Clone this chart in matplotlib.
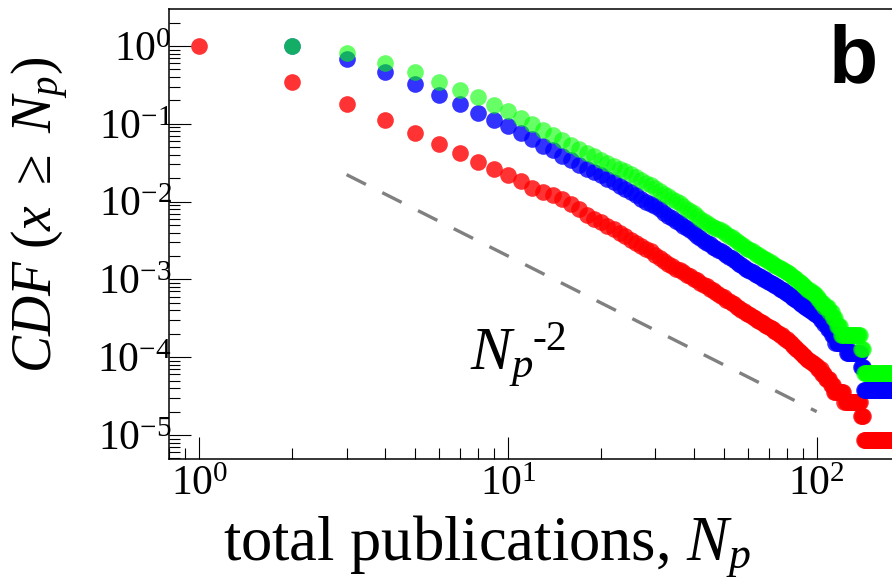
import numpy as np
import matplotlib
matplotlib.use("Agg")
import matplotlib.pyplot as plt
from matplotlib.ticker import LogLocator, NullFormatter

# log10 of CDF(x >= Np) for Np = 1, 2, 3, ... (red starts at Np=1, blue/green at Np=2)
red_logcdf = [
    0.00, -0.46, -0.74, -0.95, -1.12, -1.26, -1.38, -1.49, -1.58, -1.66,
    -1.74, -1.82, -1.87, -1.92, -1.96, -2.03, -2.10, -2.17, -2.22, -2.26,
    -2.31, -2.35, -2.40, -2.44, -2.49, -2.53, -2.57, -2.61, -2.64, -2.68,
    -2.72, -2.76, -2.80, -2.83, -2.86, -2.88, -2.91, -2.94, -2.96, -2.99,
    -3.01, -3.04, -3.07, -3.09, -3.12, -3.14, -3.16, -3.19, -3.21, -3.23,
    -3.26, -3.28, -3.30, -3.32, -3.35, -3.37, -3.39, -3.41, -3.43, -3.45,
    -3.46, -3.48, -3.50, -3.52, -3.53, -3.55, -3.56, -3.58, -3.60, -3.61,
    -3.63, -3.64, -3.66, -3.68, -3.69, -3.71, -3.72, -3.74, -3.76, -3.77,
    -3.79, -3.81, -3.83, -3.85, -3.87, -3.89, -3.91, -3.93, -3.95, -3.97,
    -3.98, -4.00, -4.02, -4.03, -4.05, -4.06, -4.07, -4.09, -4.10, -4.11,
    -4.15, -4.15, -4.15, -4.21, -4.21, -4.21, -4.28, -4.28, -4.28, -4.28,
    -4.36, -4.36, -4.36, -4.45, -4.45, -4.45, -4.45, -4.45, -4.45, -4.45,
    -4.45, -4.45, -4.58, -4.58, -4.58, -4.58, -4.58, -4.58, -4.58, -4.58,
    -4.58, -4.58, -4.58, -4.58, -4.58, -4.58, -4.58, -4.58, -4.76, -4.76,
    -4.76, -5.06, -5.06, -5.06, -5.06, -5.06, -5.06, -5.06, -5.06, -5.06,
    -5.06, -5.06, -5.06, -5.06, -5.06, -5.06, -5.06, -5.06, -5.06, -5.06,
    -5.06, -5.06, -5.06, -5.06, -5.06, -5.06, -5.06, -5.06, -5.06, -5.06,
    -5.06, -5.06, -5.06, -5.06, -5.06,
]

blue_logcdf = [
    0.00, -0.17, -0.34, -0.49, -0.63, -0.75, -0.86, -0.95, -1.03,
    -1.12, -1.20, -1.28, -1.34, -1.41, -1.47, -1.53, -1.58, -1.62, -1.66,
    -1.71, -1.75, -1.80, -1.84, -1.88, -1.92, -1.96, -2.00, -2.03, -2.06,
    -2.10, -2.14, -2.18, -2.21, -2.25, -2.28, -2.31, -2.34, -2.37, -2.40,
    -2.44, -2.47, -2.50, -2.53, -2.55, -2.58, -2.60, -2.62, -2.64, -2.66,
    -2.69, -2.71, -2.73, -2.75, -2.78, -2.80, -2.82, -2.84, -2.86, -2.88,
    -2.89, -2.91, -2.93, -2.94, -2.96, -2.97, -2.99, -3.00, -3.02, -3.03,
    -3.05, -3.06, -3.07, -3.09, -3.10, -3.12, -3.13, -3.14, -3.16, -3.17,
    -3.19, -3.20, -3.22, -3.24, -3.25, -3.27, -3.28, -3.30, -3.31, -3.33,
    -3.34, -3.36, -3.37, -3.38, -3.39, -3.40, -3.42, -3.43, -3.44, -3.45,
    -3.47, -3.47, -3.52, -3.52, -3.52, -3.57, -3.57, -3.57, -3.64, -3.64,
    -3.64, -3.72, -3.72, -3.72, -3.82, -3.82, -3.82, -3.82, -3.82, -3.82,
    -3.82, -3.82, -3.82, -3.82, -3.94, -3.94, -3.94, -3.94, -3.94, -3.94,
    -3.94, -3.94, -3.94, -3.94, -3.94, -3.94, -3.94, -3.94, -4.12, -4.12,
    -4.12, -4.42, -4.42, -4.42, -4.42, -4.42, -4.42, -4.42, -4.42, -4.42,
    -4.42, -4.42, -4.42, -4.42, -4.42, -4.42, -4.42, -4.42, -4.42, -4.42,
    -4.42, -4.42, -4.42, -4.42, -4.42, -4.42, -4.42, -4.42, -4.42, -4.42,
    -4.42, -4.42, -4.42, -4.42, -4.42,
]

green_logcdf = [
    0.00, -0.09, -0.22, -0.34, -0.46, -0.57, -0.66, -0.76, -0.83,
    -0.92, -1.00, -1.08, -1.15, -1.21, -1.27, -1.32, -1.37, -1.42, -1.46,
    -1.50, -1.54, -1.58, -1.61, -1.65, -1.69, -1.72, -1.76, -1.79, -1.83,
    -1.86, -1.90, -1.93, -1.96, -1.99, -2.02, -2.06, -2.09, -2.12, -2.15,
    -2.19, -2.22, -2.25, -2.28, -2.30, -2.32, -2.34, -2.35, -2.37, -2.39,
    -2.42, -2.44, -2.46, -2.48, -2.51, -2.53, -2.55, -2.57, -2.59, -2.61,
    -2.62, -2.64, -2.66, -2.68, -2.69, -2.71, -2.72, -2.74, -2.75, -2.77,
    -2.78, -2.80, -2.81, -2.83, -2.84, -2.85, -2.86, -2.88, -2.89, -2.90,
    -2.92, -2.93, -2.95, -2.97, -2.98, -3.00, -3.02, -3.03, -3.05, -3.07,
    -3.09, -3.10, -3.12, -3.13, -3.14, -3.16, -3.17, -3.18, -3.20, -3.21,
    -3.25, -3.25, -3.30, -3.30, -3.30, -3.35, -3.35, -3.35, -3.35, -3.42,
    -3.42, -3.42, -3.50, -3.50, -3.50, -3.60, -3.60, -3.60, -3.60, -3.72,
    -3.72, -3.72, -3.72, -3.72, -3.72, -3.72, -3.72, -3.72, -3.72, -3.72,
    -3.72, -3.72, -3.72, -3.72, -3.72, -3.72, -3.72, -3.72, -3.90, -3.90,
    -3.90, -4.20, -4.20, -4.20, -4.20, -4.20, -4.20, -4.20, -4.20, -4.20,
    -4.20, -4.20, -4.20, -4.20, -4.20, -4.20, -4.20, -4.20, -4.20, -4.20,
    -4.20, -4.20, -4.20, -4.20, -4.20, -4.20, -4.20, -4.20, -4.20, -4.20,
    -4.20, -4.20, -4.20, -4.20, -4.20,
]

# reference power law  A * Np^-2
guide_np = [3, 100]
guide_prefactor = 0.2

plt.rcParams["font.family"] = "Liberation Serif"
plt.rcParams["mathtext.fontset"] = "custom"
plt.rcParams["mathtext.rm"] = "Liberation Serif"
plt.rcParams["mathtext.it"] = "Liberation Serif:italic"
plt.rcParams["mathtext.bf"] = "Liberation Serif:bold"
plt.rcParams["mathtext.fallback"] = "stix"

fig = plt.figure(figsize=(8.92, 5.80), dpi=100)
ax = fig.add_axes([0.1895, 0.2086, 0.8105, 0.7759])

series = [
    (red_logcdf, 1, "#ff0000", 0.8),
    (blue_logcdf, 2, "#0000ff", 0.8),
    (green_logcdf, 2, "#00ff00", 0.6),
]
for logcdf, start, color, alpha in series:
    n_p = np.arange(start, start + len(logcdf))
    ax.plot(n_p, 10.0 ** np.array(logcdf), "o", ms=12, mew=0,
            color=color, alpha=alpha)

gx = np.array(guide_np, dtype=float)
ax.plot(gx, guide_prefactor * gx ** -2.0, color="#808080", lw=2.4,
        dashes=(6.5, 5.5))

ax.set_xscale("log")
ax.set_yscale("log")
ax.set_xlim(0.798, 175.4)
ax.set_ylim(4.92e-6, 2.99)

for axis in (ax.xaxis, ax.yaxis):
    axis.set_major_locator(LogLocator(base=10, numticks=20))
    axis.set_minor_locator(LogLocator(base=10, subs=np.arange(2, 10), numticks=60))
    axis.set_minor_formatter(NullFormatter())

ax.tick_params(which="both", direction="in", top=False, right=False,
               width=0.8, labelsize=30)
ax.tick_params(which="major", length=15.8)
ax.tick_params(which="minor", length=7.6)
ax.tick_params(axis="y", pad=-2)
ax.tick_params(axis="x", pad=5)

for side in ("left", "bottom", "top"):
    ax.spines[side].set_linewidth(1.1)
ax.spines["right"].set_visible(False)

ax.set_ylabel(r"$CDF\ (x\ \geq\ N_p)$", fontsize=40)
ax.yaxis.set_label_coords(-0.136, 0.542)
ax.set_xlabel(r"total publications, $N_p$", fontsize=45)
ax.xaxis.set_label_coords(0.44, -0.12)

ax.text(0.416, 0.198, r"$N_p$", transform=ax.transAxes, fontsize=44,
        va="baseline")
ax.text(0.503, 0.242, "-2", transform=ax.transAxes, fontsize=30,
        va="baseline")
ax.text(0.912, 0.838, "b", transform=ax.transAxes, fontsize=58,
        fontweight="bold", family="Liberation Sans", va="baseline")

fig.savefig("out.png", dpi=100)
